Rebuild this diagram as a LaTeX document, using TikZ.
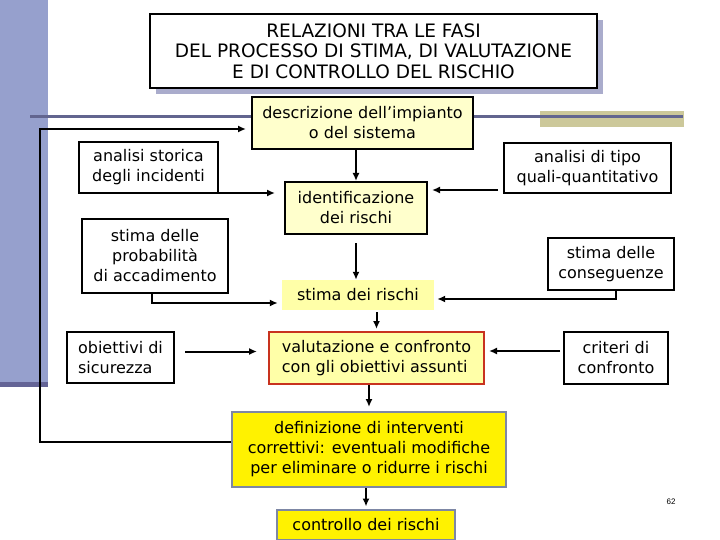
\documentclass[tikz,border=0pt]{standalone}
\usepackage{fontspec}
\setmainfont{DejaVu Sans}
\newfontfamily\pagenumfont{Liberation Sans}
\usetikzlibrary{arrows.meta}
\definecolor{barblue}{RGB}{150,160,205}
\definecolor{bardark}{RGB}{100,100,150}
\definecolor{rulegray}{RGB}{98,101,143}
\definecolor{khaki}{RGB}{204,200,154}
\definecolor{shadowblue}{RGB}{170,172,204}
\definecolor{paleyel}{RGB}{255,255,204}
\definecolor{midyel}{RGB}{255,255,168}
\definecolor{redline}{RGB}{200,50,30}
\definecolor{greyblue}{RGB}{125,135,165}

\begin{document}
\begin{tikzpicture}[x=1pt, y=-1pt,
    every node/.style={font=\fontsize{16}{20}\selectfont},
    wbox/.style={draw, line width=2pt, fill=white, align=center, inner sep=0pt},
    pbox/.style={wbox, fill=paleyel},
    ybox/.style={wbox, fill=yellow, draw=greyblue},
    arr/.style={line width=2pt, -{Latex[length=8pt,width=7pt]}}
]
\useasboundingbox (0,0) rectangle (720,540);
% slide background
\fill[barblue] (0,0) rectangle (48,382);
\fill[bardark] (0,382) rectangle (48,387);
\fill[khaki] (540,111) rectangle (684,127);
\draw[rulegray, line width=3pt] (30,117) -- (683,117);
% title
\fill[shadowblue] (156,20) rectangle (603,94);
\node[wbox, minimum width=447, minimum height=74, font=\fontsize{18.5}{20.5}\selectfont]
  (title) at (373.5,51) {RELAZIONI TRA LE FASI\\DEL PROCESSO DI STIMA, DI VALUTAZIONE\\E DI CONTROLLO DEL RISCHIO};
% main chain
\node[pbox, minimum width=221, minimum height=52] (descr) at (362.5,123) {descrizione dell’impianto\\o del sistema};
\node[pbox, minimum width=142, minimum height=52] (ident) at (356,208) {identificazione\\dei rischi};
\node[draw=none, fill=midyel, minimum width=152, minimum height=30, inner sep=0pt] (stimaris) at (358,295) {stima dei rischi};
\node[pbox, fill=midyel, draw=redline, minimum width=215, minimum height=52, align=left] (valut) at (376.5,358) {valutazione e confronto\\con gli obiettivi assunti};
\node[ybox, minimum width=274, minimum height=75] (defin) at (369,449.5) {definizione di interventi\\correttivi: eventuali modifiche\\per eliminare o ridurre i rischi};
\node[ybox, minimum width=178, minimum height=30] (controllo) at (366,524.5) {controllo dei rischi};
% side inputs
\node[wbox, minimum width=139, minimum height=51] (storica) at (148.5,167.5) {analisi storica\\degli incidenti};
\node[wbox, minimum width=146, minimum height=74] (probab) at (155,256) {stima delle\\probabilità\\di accadimento};
\node[wbox, minimum width=107, minimum height=51, align=left] (obiett) at (120.5,357.5) {obiettivi di\\sicurezza};
\node[wbox, minimum width=167, minimum height=50] (tipo) at (587.5,168) {analisi di tipo\\quali-quantitativo};
\node[wbox, minimum width=126, minimum height=52] (conseg) at (611,264) {stima delle\\conseguenze};
\node[wbox, minimum width=104, minimum height=52] (criteri) at (616,358) {criteri di\\confronto};
\node[font=\pagenumfont\fontsize{8}{9}\selectfont] (pagenum) at (671,502) {62};
\coordinate (loopc) at (40,300);
% connectors
\draw[arr] (ident.north |- descr.south) -- (ident.north);
\draw[arr, shorten <=8pt] (ident.south) -- (ident.south |- stimaris.north);
\draw[arr, shorten <=2pt, shorten >=2pt] (stimaris.south -| valut.north) -- (valut.north);
\draw[arr, shorten >=4pt] (valut.south -| defin.north) -- (defin.north);
\draw[arr, shorten >=2pt] (defin.south -| controllo.north) -- (controllo.north);
\draw[arr, shorten >=9pt] ([yshift=1pt]storica.south east) -- ([yshift=1pt]storica.south east -| ident.west);
\draw[arr, shorten >=4pt] ([xshift=-3pt]probab.south) |- ([yshift=-8pt]stimaris.west);
\draw[arr, shorten <=10pt, shorten >=11pt] ([yshift=6pt]obiett.east) -- ([yshift=6pt]obiett.east -| valut.west);
\draw[arr, shorten <=5pt, shorten >=4pt] ([yshift=4pt]tipo.south west) -- ([yshift=4pt]tipo.south west -| ident.east);
\draw[arr, shorten >=3pt] ([xshift=5pt]conseg.south) |- ([yshift=-4pt]stimaris.east);
\draw[arr, shorten <=3pt, shorten >=4pt] ([yshift=7pt]criteri.west) -- ([yshift=7pt]criteri.west -| valut.east);
\draw[arr, shorten >=5pt] ([yshift=8pt]defin.west) -| (loopc) |- ([yshift=-6pt]descr.west);
\end{tikzpicture}
\end{document}
